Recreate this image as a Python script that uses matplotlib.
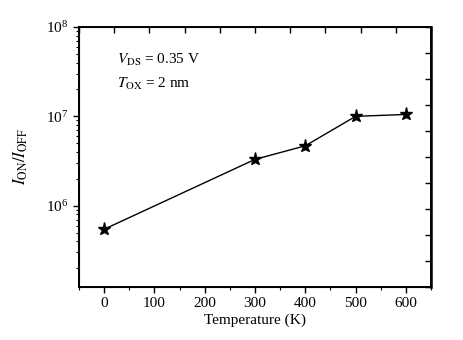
import numpy as np
import matplotlib
matplotlib.use('Agg')
import matplotlib.pyplot as plt
from matplotlib.ticker import LogLocator, MultipleLocator, NullFormatter, FixedLocator

plt.rcParams['font.family'] = 'Liberation Serif'
plt.rcParams['mathtext.fontset'] = 'stix'

temperature = [0, 300, 400, 500, 600]
on_off_ratio = [5.45e5, 3.3e6, 4.68e6, 1.0e7, 1.05e7]
x_ticks = [0, 100, 200, 300, 400, 500, 600]

fig = plt.figure(figsize=(4.64, 3.4), dpi=100)
ax = fig.add_axes([79 / 464, 1 - 287 / 340, 352 / 464, 260 / 340])

ax.plot(temperature, on_off_ratio, '-', color='black', lw=1.0,
        marker='*', markersize=9.5)

ax.set_yscale('log')
ax.set_xlim(-50, 650)
ax.set_ylim(10 ** 5.09, 1e8)
ax.set_xticks(x_ticks)
ax.xaxis.set_minor_locator(MultipleLocator(50))
ax.yaxis.set_major_locator(LogLocator(base=10, numticks=10))
ax.yaxis.set_minor_locator(LogLocator(base=10, subs=np.arange(2, 10), numticks=20))
ax.yaxis.set_minor_formatter(NullFormatter())

ax.tick_params(axis='both', which='major', direction='out', length=4,
               width=1, labelsize=11, top=False, right=False)
ax.tick_params(axis='both', which='minor', direction='out', length=2.5,
               width=0.8, top=False, right=False)

for s in ax.spines.values():
    s.set_linewidth(1.2)

# mirrored axes carry evenly spaced inward ticks
top = ax.twiny()
top.set_xlim(0, 1)
top.xaxis.set_major_locator(FixedLocator(np.linspace(0, 1, 11)))
top.tick_params(axis='x', direction='in', length=4, width=1, labeltop=False)
right = ax.twinx()
right.set_ylim(0, 1)
right.yaxis.set_major_locator(FixedLocator(np.linspace(0, 1, 11)))
right.tick_params(axis='y', direction='in', length=4, width=1, labelright=False)
for s in right.spines.values():
    s.set_linewidth(1.2)
right.spines['right'].set_linewidth(1.8)

ax.set_xlabel('Temperature (K)', fontsize=11, labelpad=2)
ax.set_ylabel(r'$I_{\rm ON}/I_{\rm OFF}$', fontsize=12, labelpad=12)

ax.text(0.108, 0.875, r'$V_{\rm DS}$ = 0.35 V', transform=ax.transAxes,
        fontsize=11, va='center')
ax.text(0.108, 0.78, r'$T_{\rm OX}$ = 2 nm', transform=ax.transAxes,
        fontsize=11, va='center')

fig.savefig('out.png', dpi=100)
